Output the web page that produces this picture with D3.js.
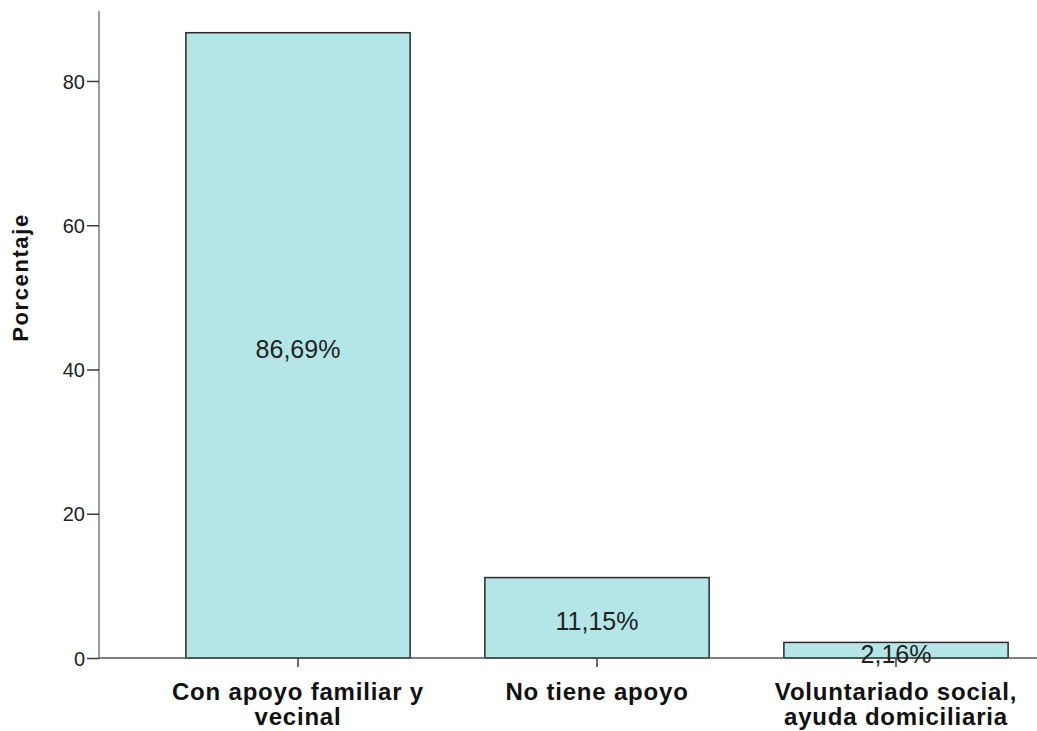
<!DOCTYPE html>
<html>
<head>
<meta charset="utf-8">
<script src="https://cdn.jsdelivr.net/npm/d3@7"></script>
<style>
  html, body { margin: 0; padding: 0; background: #fff; }
  svg { display: block; font-family: "Liberation Sans", Arial, sans-serif; }
</style>
</head>
<body>
<svg id="chart" width="1037" height="731"></svg>
<script>
// Categories (each label split into its display lines)
const categories = ["Con apoyo familiar y vecinal", "No tiene apoyo", "Voluntariado social, ayuda domiciliaria"];
const categoryLines = [["Con apoyo familiar y", "vecinal"], ["No tiene apoyo"], ["Voluntariado social,", "ayuda domiciliaria"]];
const percentages = [86.69, 11.15, 2.16];
const valueLabels = ["86,69%", "11,15%", "2,16%"];
const yTicks = [0, 20, 40, 60, 80];

const svg = d3.select("#chart");
const axisLeftX = 99, plotTop = 11, plotBottom = 658;

const x = d3.scaleBand()
  .domain(categories)
  .range([148.5, 1045.5])
  .paddingInner(0.25)
  .paddingOuter(0.125);

const y = d3.scaleLinear()
  .domain([0, 89.7])
  .range([plotBottom, plotTop]);

// Bars
svg.append("g").selectAll("rect")
  .data(categories)
  .join("rect")
  .attr("x", d => x(d))
  .attr("y", (d, i) => y(percentages[i]))
  .attr("width", x.bandwidth())
  .attr("height", (d, i) => y(0) - y(percentages[i]))
  .attr("fill", "#b4e6e7")
  .attr("stroke", "#2a2a2a")
  .attr("stroke-width", 1.5);

// Y axis
const yAxis = svg.append("g")
  .attr("transform", `translate(${axisLeftX},0)`)
  .call(d3.axisLeft(y).tickValues(yTicks).tickSize(12).tickSizeOuter(0).tickPadding(2));
yAxis.attr("font-size", null).attr("font-family", null);
yAxis.select(".domain").attr("stroke", "#7a7a7a").attr("stroke-width", 1.5)
  .attr("d", `M0,${plotTop}V${plotBottom}`);
yAxis.selectAll(".tick line").attr("stroke", "#3a3a3a").attr("stroke-width", 1.5);
yAxis.selectAll(".tick text")
  .style("font-size", "20px")
  .attr("fill", "#222")
  .attr("dy", "0.36em");

// X axis
const xAxis = svg.append("g")
  .attr("transform", `translate(0,${plotBottom})`)
  .call(d3.axisBottom(x).tickSize(9).tickSizeOuter(0).tickFormat(""));
xAxis.select(".domain").attr("stroke", "#555").attr("stroke-width", 1.5)
  .attr("d", `M${axisLeftX},0H1037`);
xAxis.selectAll(".tick line").attr("stroke", "#3a3a3a").attr("stroke-width", 1.5);

// Category labels
const catG = svg.append("g");
categories.forEach((c, i) => {
  const t = catG.append("text")
    .attr("x", x(c) + x.bandwidth() / 2)
    .attr("y", 700)
    .attr("text-anchor", "middle")
    .style("font-size", "24px")
    .attr("font-weight", "bold")
    .attr("letter-spacing", 0.8)
    .attr("fill", "#111");
  categoryLines[i].forEach((line, k) => {
    t.append("tspan")
      .attr("x", x(c) + x.bandwidth() / 2)
      .attr("dy", k === 0 ? 0 : 25)
      .text(line);
  });
});

// Value labels centered in each bar
svg.append("g").selectAll("text")
  .data(categories)
  .join("text")
  .attr("x", d => x(d) + x.bandwidth() / 2)
  .attr("y", (d, i) => (y(percentages[i]) + y(0)) / 2 + 12.5)
  .attr("text-anchor", "middle")
  .style("font-size", "25px")
  .attr("fill", "#222")
  .text((d, i) => valueLabels[i]);

// Y axis title
svg.append("text")
  .attr("transform", "translate(28,277.5) rotate(-90)")
  .attr("text-anchor", "middle")
  .style("font-size", "22px")
  .attr("font-weight", "bold")
  .attr("letter-spacing", 1.6)
  .attr("fill", "#111")
  .text("Porcentaje");
</script>
</body>
</html>
